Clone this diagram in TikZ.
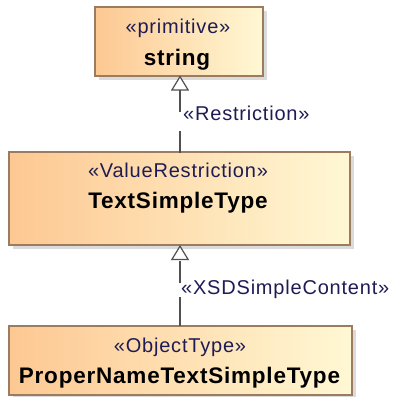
\documentclass[tikz,border=0pt]{standalone}
\usepackage{fontspec}
\setmainfont{Liberation Sans}
\newfontfamily\stfont[LetterSpace=4]{Liberation Sans}
\newfontfamily\nmfont[LetterSpace=3.5]{Liberation Sans}
\usetikzlibrary{shadows,arrows.meta}
\definecolor{boxL}{HTML}{FDC892}
\definecolor{boxR}{HTML}{FFF8D4}
\definecolor{boxB}{HTML}{9C7C60}
\definecolor{lineC}{HTML}{505050}
\definecolor{stC}{HTML}{1E1C55}
\tikzset{
  umlbox/.style={draw=boxB, line width=1.3pt, left color=boxL, right color=boxR, shading angle=90,
    drop shadow={shadow xshift=4pt, shadow yshift=-4pt, fill=black!28}, inner sep=0pt},
  sttext/.style={font=\stfont\fontsize{20}{24}\selectfont, text=stC, anchor=base, inner sep=0pt},
  nmtext/.style={font=\nmfont\bfseries\fontsize{22.5}{26}\selectfont, text=black, anchor=base, inner sep=0pt},
  lbltext/.style={font=\stfont\fontsize{20}{24}\selectfont, text=stC, anchor=base west, inner sep=0pt},
  gen/.style={draw=lineC, line width=1.2pt, -{Triangle[open, width=18pt, length=15pt, line width=1.2pt, fill=white]}},
}
\begin{document}
\begin{tikzpicture}[x=1pt, y=-1pt]
\useasboundingbox (0,0) rectangle (392,397);
\node[umlbox, minimum width=168pt, minimum height=69pt] (str) at (179,41.5) {};
\node[umlbox, minimum width=341pt, minimum height=93pt] (tst) at (179.5,198.5) {};
\node[umlbox, minimum width=343pt, minimum height=69pt] (pnt) at (180.5,360.5) {};
\node[sttext] (strS) at (178,33) {«primitive»};
\node[nmtext] (strN) at (177,65) {string};
\node[sttext] (tstS) at (178,177) {«ValueRestriction»};
\node[nmtext] (tstN) at (178,208) {TextSimpleType};
\node[sttext] (pntS) at (180,352) {«ObjectType»};
\node[nmtext] (pntN) at (179.5,383) {ProperNameTextSimpleType};
\coordinate (c1s) at (180,153);
\coordinate (c1t) at (180,75.5);
\coordinate (c2s) at (180,326);
\coordinate (c2t) at (180,245);
\draw[gen, dash pattern=on 22pt off 19pt] (c1s) -- (c1t);
\draw[gen, dash pattern=on 29pt off 14pt on 22pt off 20pt] (c2s) -- (c2t);
\node[lbltext] (l1) at (183,120) {«Restriction»};
\node[lbltext] (l2) at (181,294) {«XSDSimpleContent»};
\end{tikzpicture}
\end{document}
